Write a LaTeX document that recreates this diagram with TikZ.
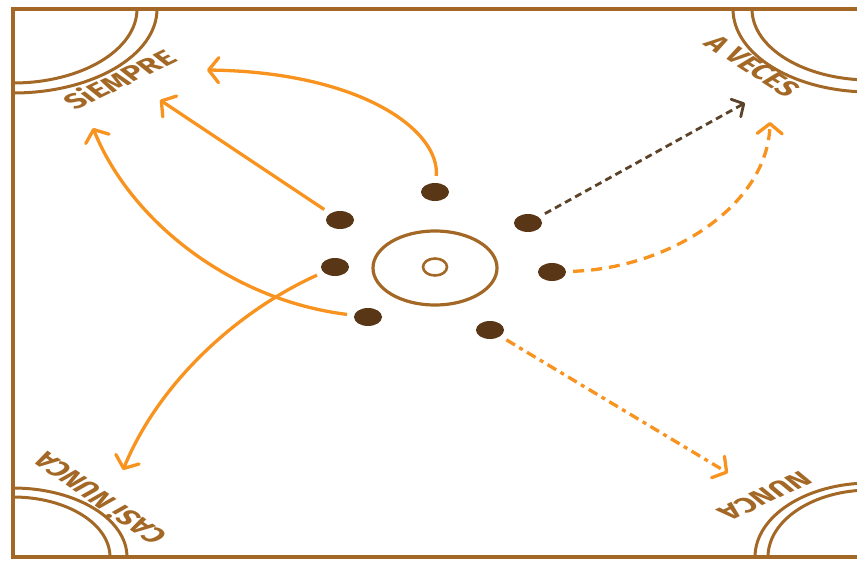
\documentclass[tikz,border=0pt]{standalone}
\usepackage{fontspec}
\setsansfont{Fira Sans}
\usetikzlibrary{arrows.meta,shapes.geometric}
\definecolor{rim}{RGB}{163,104,38}
\definecolor{amber}{RGB}{247,147,30}
\definecolor{cocoa}{RGB}{88,54,22}
\definecolor{bark}{RGB}{92,66,40}

\begin{document}
\begin{tikzpicture}[x=1pt,y=-1pt,
  frameline/.style={rim,line width=3.4pt},
  arcline/.style={rim,line width=3pt},
  dot/.style={ellipse,fill=cocoa,minimum width=28pt,minimum height=18pt,inner sep=0pt},
  hoop/.style={ellipse,draw=rim,line width=3.2pt,inner sep=0pt},
  lbl/.style={text=rim,font=\sffamily\bfseries\fontsize{21}{21}\selectfont,inner sep=0pt,xscale=1.6},
  oarr/.style={-{Straight Barb[length=10pt,width=25pt,round]},amber,line width=3.3pt,shorten <=7pt},
  odash/.style={oarr,dash pattern=on 11pt off 7pt},
  odot/.style={oarr,dash pattern=on 10pt off 5pt on 4pt off 5pt},
  barr/.style={-{Straight Barb[length=9pt,width=20pt,round]},bark,line width=2.8pt,dash pattern=on 7pt off 4.5pt,shorten <=7pt}]
  \useasboundingbox (0,0) rectangle (857,560);
  \clip (0,0) rectangle (857,560);
  % frame and corner arcs
  \draw[frameline] (875,9) -- (13,9) -- (13,557) -- (875,557);
  \begin{scope}
    \clip (13,9) rectangle (875,557);
    \draw[arcline] (13,9) ellipse [x radius=124,y radius=74];
    \draw[arcline] (13,9) ellipse [x radius=144,y radius=84];
    \draw[arcline] (870,9) ellipse [x radius=118,y radius=71];
    \draw[arcline] (870,9) ellipse [x radius=137,y radius=83];
    \draw[arcline] (13,557) ellipse [x radius=97,y radius=60];
    \draw[arcline] (13,557) ellipse [x radius=114,y radius=69];
    \draw[arcline] (870,557) ellipse [x radius=102,y radius=67];
    \draw[arcline] (870,557) ellipse [x radius=115,y radius=74];
  \end{scope}
  % labels
  \node[lbl,rotate=38] (siempre) at (119,79) {SiEMPRE};
  \node[lbl,rotate=-46] (aveces) at (753,66) {A VECES};
  \node[lbl,rotate=132] (casinunca) at (99,499) {CASi NUNCA};
  \node[lbl,rotate=217] (nunca) at (765,496) {NUNCA};
  % centre
  \node[hoop,minimum width=124pt,minimum height=74pt] (hub) at (435,268) {};
  \node[hoop,line width=2.6pt,minimum width=24pt,minimum height=17pt] (core) at (435,267) {};
  \node[dot] (top) at (435,192) {};
  \node[dot] (ul) at (340,220) {};
  \node[dot] (lft) at (335,267) {};
  \node[dot] (ll) at (368,317) {};
  \node[dot] (lr) at (490,330) {};
  \node[dot] (ur) at (528,223) {};
  \node[dot] (rgt) at (552,272) {};
  % arrow ends
  \coordinate (tipA) at (207,70);
  \coordinate (tipB) at (160,100);
  \coordinate (tipC) at (93,128);
  \coordinate (tipD) at (123,470);
  \coordinate (tipE) at (745,103);
  \coordinate (tipF) at (770,122);
  \coordinate (tipG) at (728,473);
  \draw[oarr] (top) .. controls (440,130) and (360,72) .. (tipA);
  \draw[oarr] (ul) -- (tipB);
  \draw[oarr] (ll) .. controls (230,300) and (130,220) .. (tipC);
  \draw[oarr] (lft) .. controls (240,310) and (160,380) .. (tipD);
  \draw[barr] (ur) -- (tipE);
  \draw[odash] (rgt) .. controls (670,268) and (768,205) .. (tipF);
  \draw[odot] (lr) -- (tipG);
\end{tikzpicture}
\end{document}
